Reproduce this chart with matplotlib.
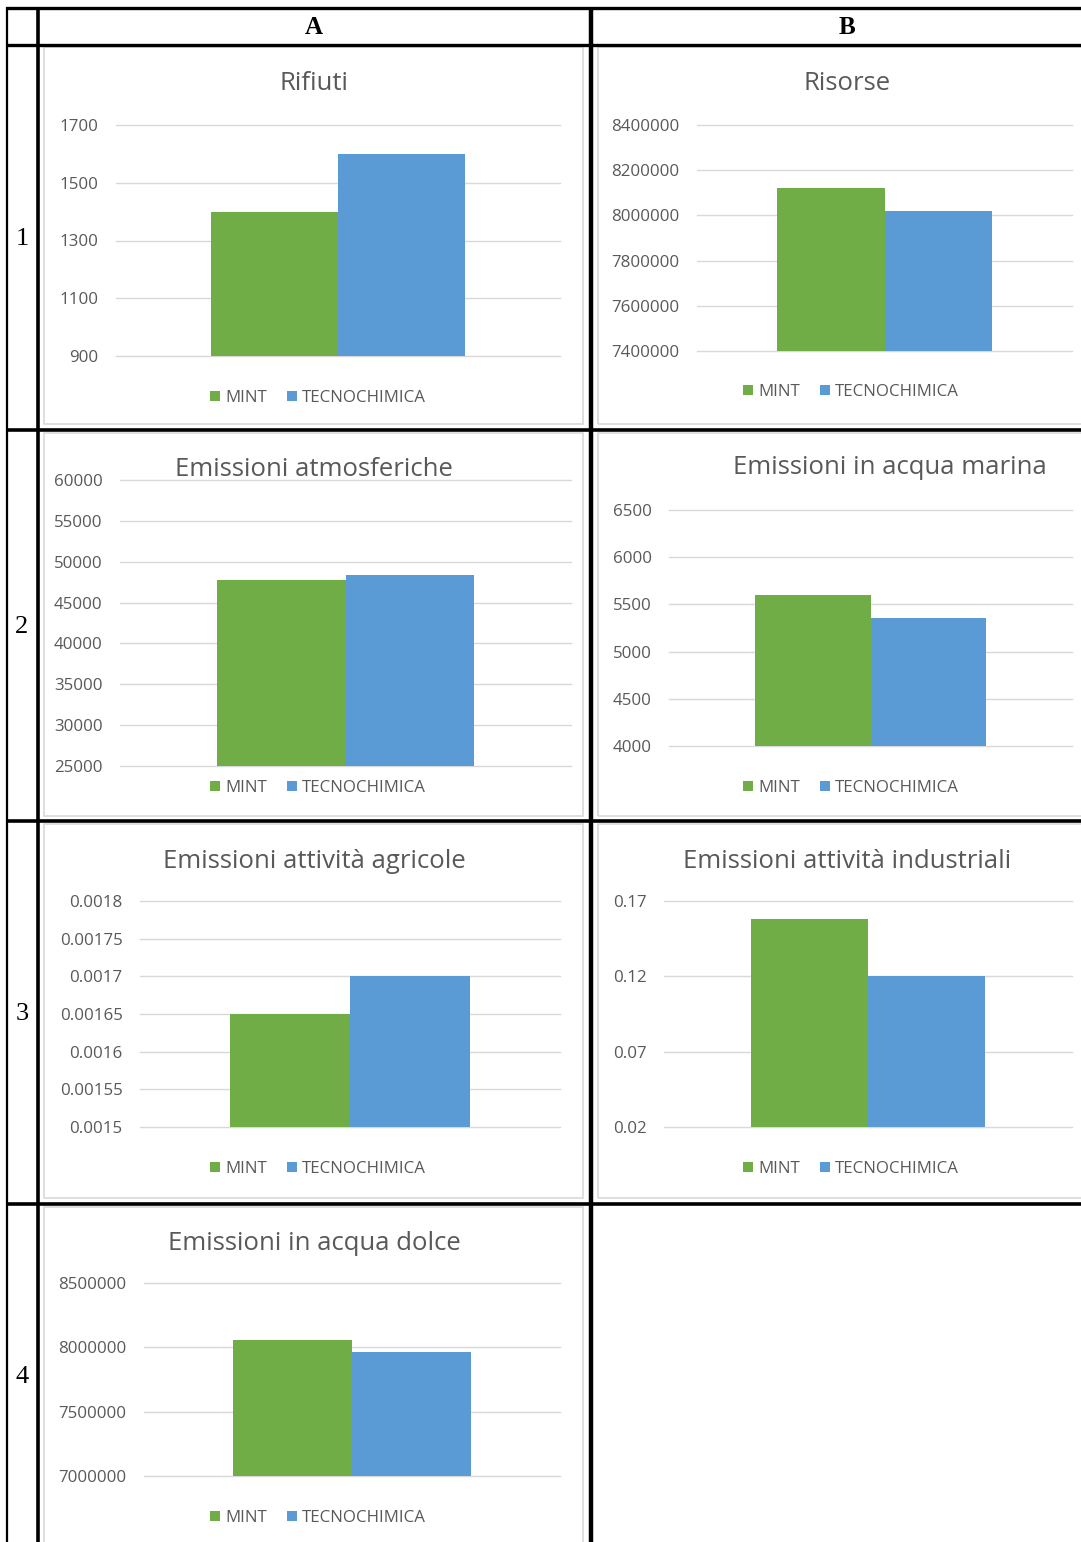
import matplotlib
matplotlib.use("Agg")
import matplotlib.pyplot as plt
from matplotlib.patches import Rectangle
from matplotlib.lines import Line2D

# data
titles = ['Rifiuti', 'Risorse', 'Emissioni atmosferiche', 'Emissioni in acqua marina',
          'Emissioni attività agricole', 'Emissioni attività industriali', 'Emissioni in acqua dolce']
series = ['MINT', 'TECNOCHIMICA']
mint = [1400, 8120000, 47800, 5600, 0.00165, 0.158, 8060000]
tecno = [1600, 8020000, 48400, 5360, 0.0017, 0.12, 7960000]
yticks = [
    [900, 1100, 1300, 1500, 1700],
    [7400000, 7600000, 7800000, 8000000, 8200000, 8400000],
    [25000, 30000, 35000, 40000, 45000, 50000, 55000, 60000],
    [4000, 4500, 5000, 5500, 6000, 6500],
    [0.0015, 0.00155, 0.0016, 0.00165, 0.0017, 0.00175, 0.0018],
    [0.02, 0.07, 0.12, 0.17],
    [7000000, 7500000, 8000000, 8500000],
]
ytick_labels = [
    ['900', '1100', '1300', '1500', '1700'],
    ['7400000', '7600000', '7800000', '8000000', '8200000', '8400000'],
    ['25000', '30000', '35000', '40000', '45000', '50000', '55000', '60000'],
    ['4000', '4500', '5000', '5500', '6000', '6500'],
    ['0.0015', '0.00155', '0.0016', '0.00165', '0.0017', '0.00175', '0.0018'],
    ['0.02', '0.07', '0.12', '0.17'],
    ['7000000', '7500000', '8000000', '8500000'],
]
col_headers = ['A', 'B']
row_labels = ['1', '2', '3', '4']

GREEN = '#70AD47'
BLUE = '#5B9BD5'
TXT = '#595959'
GRID = '#D9D9D9'
FONT = 'Open Sans'

W, H = 1081, 1542
fig = plt.figure(figsize=(W / 100, H / 100), dpi=100)
fig.patch.set_facecolor('white')

def fx(x):
    return x / W

def fy(y):
    return 1 - y / H

# plot area (left, right, top, bottom) px, title pos, legend pos, chart box
plot_px = [(116, 560, 125, 356), (697, 1072, 125, 351), (120, 571, 480, 766),
           (669, 1072, 510, 746), (140, 560, 901, 1127), (664, 1072, 901, 1127),
           (144, 560, 1283, 1476)]
title_px = [(314, 84), (847, 84), (314, 469), (890, 468), (314, 861), (847, 861), (314, 1243)]
legend_px = [(318, 398), (851, 392), (318, 788), (851, 788), (318, 1169), (851, 1169), (318, 1518)]
box_px = [(44, 583, 47, 424), (598, 1090, 47, 424), (44, 583, 433, 816), (598, 1090, 433, 816),
          (44, 583, 824, 1198), (598, 1090, 824, 1198), (44, 583, 1207, 1560)]

w = 1 / 3.5  # excel gap width 150%
for i in range(7):
    l, r, t, b = plot_px[i]
    bl, br, bt, bb = box_px[i]
    fig.add_artist(Rectangle((fx(bl), fy(bb)), (br - bl) / W, (bb - bt) / H,
                             transform=fig.transFigure, fill=False, ec=GRID, lw=1.2))
    ax = fig.add_axes([fx(l), fy(b), (r - l) / W, (b - t) / H])
    b1 = ax.bar(-w / 2, mint[i] - yticks[i][0], w, bottom=yticks[i][0], color=GREEN, label=series[0])
    b2 = ax.bar(w / 2, tecno[i] - yticks[i][0], w, bottom=yticks[i][0], color=BLUE, label=series[1])
    ax.set_xlim(-0.5, 0.5)
    ax.set_ylim(yticks[i][0], yticks[i][-1])
    ax.set_yticks(yticks[i])
    ax.set_yticklabels(ytick_labels[i], fontsize=12.2, color=TXT, family=FONT)
    ax.set_xticks([])
    ax.tick_params(axis='y', length=0, pad=12.5)
    for s in ax.spines.values():
        s.set_visible(False)
    ax.yaxis.grid(True, color=GRID, lw=1)
    for gl in ax.get_ygridlines():
        gl.set_clip_on(False)
    ax.set_axisbelow(True)
    ax.set_facecolor('none')
    tx, ty = title_px[i]
    fig.text(fx(tx), fy(ty), titles[i], ha='center', va='center', fontsize=18.5,
             color=TXT, family=FONT)
    lx, ly = legend_px[i]
    ax.legend(handles=[b1, b2], loc='center', bbox_to_anchor=(fx(lx), fy(ly)),
              bbox_transform=fig.transFigure, ncol=2, frameon=False,
              handlelength=0.6, handleheight=0.6, handletextpad=0.3,
              columnspacing=1.2, prop={'family': FONT, 'size': 12.2},
              labelcolor=TXT)

# table lines
def hline(y, x0, x1, lw):
    fig.add_artist(Line2D([fx(x0), fx(x1)], [fy(y), fy(y)], transform=fig.transFigure,
                          color='black', lw=lw, solid_capstyle='butt'))

def vline(x, y0, y1, lw):
    fig.add_artist(Line2D([fx(x), fx(x)], [fy(y0), fy(y1)], transform=fig.transFigure,
                          color='black', lw=lw, solid_capstyle='butt'))

hline(8, 6, W, 2.4)
hline(44.5, 6, W, 2.4)
hline(430, 6, W, 2.6)
hline(821, 6, W, 2.6)
hline(1203.5, 6, W, 2.6)
vline(7, 7, H, 1.6)
vline(37.5, 7, H, 2.6)
vline(591, 7, H, 3.2)

for j, hdr in enumerate(col_headers):
    fig.text(fx([314, 847][j]), fy(28), hdr, ha='center', va='center', fontsize=18,
             fontweight='bold', family='Liberation Serif')
for j, rl in enumerate(row_labels):
    fig.text(fx(22), fy([239, 627, 1014, 1377][j]), rl, ha='center', va='center',
             fontsize=19, family='Liberation Serif')

fig.savefig('out.png', dpi=100)
